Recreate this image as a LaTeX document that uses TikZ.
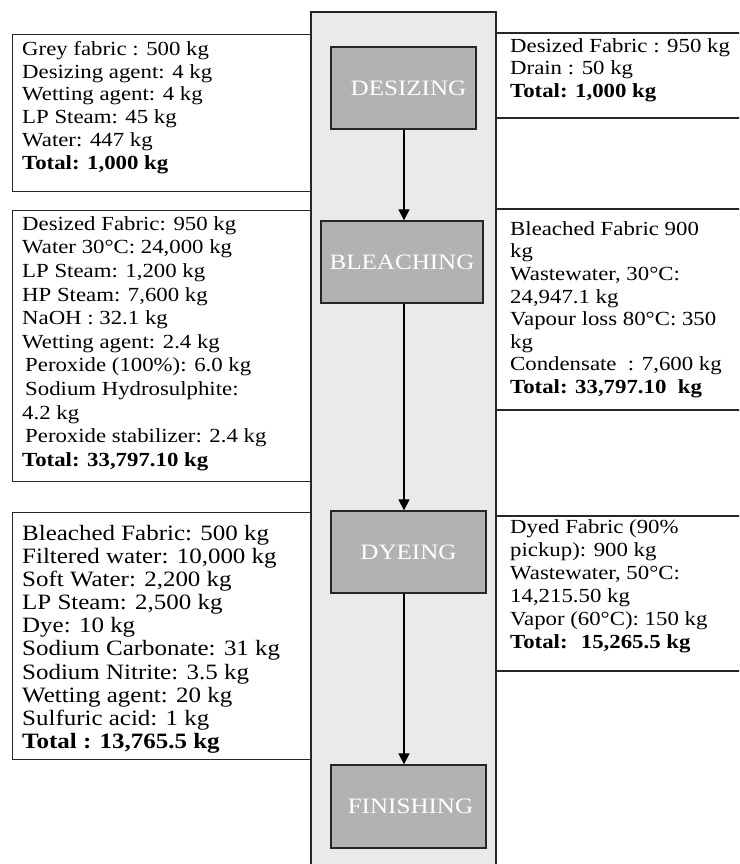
\documentclass[tikz,border=0pt]{standalone}
\usepackage{fontspec}
\setmainfont[FakeStretch=1.14]{Liberation Serif}
\usetikzlibrary{arrows.meta}
\definecolor{colfill}{HTML}{EAEAEA}
\definecolor{procfill}{HTML}{B2B2B2}
\definecolor{linec}{HTML}{262626}
\begin{document}
\begin{tikzpicture}[x=1pt,y=-1pt,
  inbox/.style={draw=linec, line width=1.3pt, fill=white, rectangle, inner sep=0pt, anchor=north west},
  outline/.style={draw=linec, line width=1.3pt},
  column/.style={draw=linec, line width=1.3pt, fill=colfill},
  procbox/.style={draw=linec, line width=1.3pt, fill=procfill, rectangle, inner sep=0pt,
    text=white, font={\fontsize{22}{25}\selectfont}},
  txt/.style={anchor=north west, align=left, inner sep=0pt},
  arr/.style={draw=black, line width=1.2pt, -{Triangle[width=11pt,length=11pt]}}]
\clip (0,0) rectangle (739,864);
\fill[white] (0,0) rectangle (739,864);
% input boxes (left)
\node[inbox, minimum width=299pt, minimum height=157pt] (in1) at (12,34) {};
\node[inbox, minimum width=299pt, minimum height=271pt] (in2) at (12,210) {};
\node[inbox, minimum width=299pt, minimum height=247pt] (in3) at (12,512) {};
% output boxes (right, open)
\draw[outline] (496,33) -- (745,33) (496,118) -- (745,118);
\draw[outline] (496,209) -- (745,209) (496,410) -- (745,410);
\draw[outline] (496,516) -- (745,516) (496,671) -- (745,671);
% central column
\draw[column] (311,12) rectangle (496,890);
% process boxes
\node[procbox, minimum width=145pt, minimum height=82pt] (des) at (403.5,88) {\hspace*{10pt}DESIZING};
\node[procbox, minimum width=162pt, minimum height=82pt] (ble) at (402,262) {BLEACHING};
\node[procbox, minimum width=155pt, minimum height=82pt] (dye) at (408.5,552) {DYEING};
\node[procbox, minimum width=155pt, minimum height=83pt] (fin) at (408.5,806.5) {\hspace*{4pt}FINISHING};
% connectors
\coordinate (ax) at (404,0);
\draw[arr] (des.south -| ax) -- (ble.north -| ax);
\draw[arr] (ble.south -| ax) -- (dye.north -| ax);
\draw[arr] (dye.south -| ax) -- (fin.north -| ax);
% texts
\node[txt, font={\fontsize{20}{22.7}\selectfont}] (t1) at (22,41.3) {Grey fabric : 500 kg\\Desizing agent: 4 kg\\Wetting agent: 4 kg\\LP Steam: 45 kg\\Water: 447 kg\\\textbf{Total: 1,000 kg}};
\node[txt, font={\fontsize{20}{23.6}\selectfont}] (t2) at (22,216.3) {Desized Fabric: 950 kg\\Water 30°C: 24,000 kg\\LP Steam: 1,200 kg\\HP Steam: 7,600 kg\\NaOH : 32.1 kg\\Wetting agent: 2.4 kg\\\hspace*{3pt}Peroxide (100\%): 6.0 kg\\\hspace*{3pt}Sodium Hydrosulphite:\\4.2 kg\\\hspace*{3pt}Peroxide stabilizer: 2.4 kg\\\textbf{Total: 33,797.10 kg}};
\node[txt, font={\fontsize{21.9}{23.1}\selectfont}] (t3) at (22,525) {Bleached Fabric: 500 kg\\Filtered water: 10,000 kg\\Soft Water: 2,200 kg\\LP Steam: 2,500 kg\\Dye: 10 kg\\Sodium Carbonate: 31 kg\\Sodium Nitrite: 3.5 kg\\Wetting agent: 20 kg\\Sulfuric acid: 1 kg\\\textbf{Total : 13,765.5 kg}};
\node[txt, font={\fontsize{20}{22.4}\selectfont}] (t4) at (510,38.3) {Desized Fabric : 950 kg\\Drain : 50 kg\\\textbf{Total: 1,000 kg}};
\node[txt, font={\fontsize{20}{22.6}\selectfont}] (t5) at (510,221.3) {Bleached Fabric 900\\kg\\Wastewater, 30°C:\\24,947.1 kg\\Vapour loss 80°C: 350\\kg\\Condensate \ : 7,600 kg\\\textbf{Total: 33,797.10 \ kg}};
\node[txt, font={\fontsize{20}{23}\selectfont}] (t6) at (510,519) {Dyed Fabric (90\%\\pickup): 900 kg\\Wastewater, 50°C:\\14,215.50 kg\\Vapor (60°C): 150 kg\\\textbf{Total: \ 15,265.5 kg}};
\end{tikzpicture}
\end{document}
